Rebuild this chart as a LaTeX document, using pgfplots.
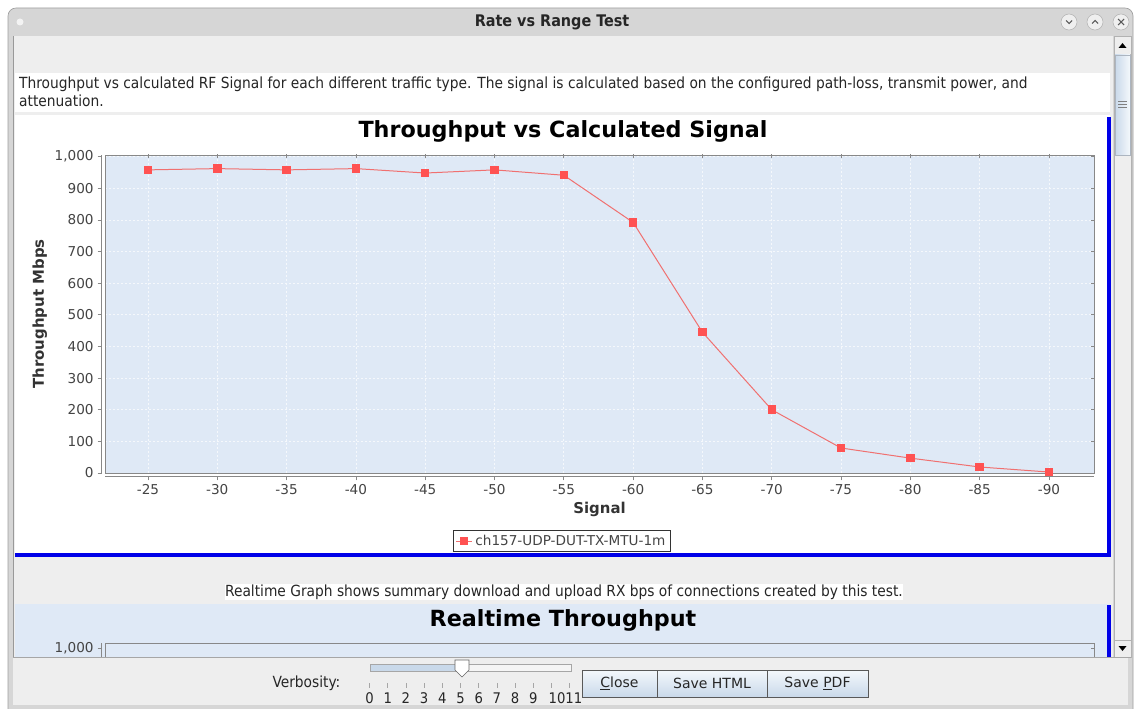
\documentclass[border=0pt]{standalone}
\usepackage{pgfplots}
\pgfplotsset{compat=1.18}
\usepackage{fontspec}
\setmainfont{DejaVu Sans}
\newfontfamily\cond{DejaVu Sans Condensed}
\definecolor{plotbg}{HTML}{DFE9F6}
\definecolor{serie}{HTML}{FF5252}
\definecolor{serieline}{HTML}{F07070}
\definecolor{winbg}{HTML}{EEEEEE}
\definecolor{frame}{HTML}{D6D6D6}
\definecolor{jblue}{HTML}{0000E8}
\definecolor{ticktxt}{HTML}{444444}
\definecolor{axgray}{HTML}{888888}
\definecolor{btnA}{HTML}{F4F8FC}
\definecolor{btnB}{HTML}{C9D9EA}
\begin{document}
\begin{tikzpicture}
% ---------------- window background ----------------
\begin{scope}[x=0.75pt,y=-0.75pt]
\path[use as bounding box, fill=white] (0,0) rectangle (1135,709);
\fill[frame] (8,709) [rounded corners=6pt]-- (8,8) -- (1133,8) [sharp corners]-- (1133,709) -- cycle;
\draw[gray!75, line width=0.5pt] (8,709) [rounded corners=6pt]-- (8,8) -- (1133,8) [sharp corners]-- (1133,709);
\fill[white!70!frame] (20,22) circle (3.5);
\node[font=\cond\bfseries\fontsize{12}{14}\selectfont, text=black!85] at (552,22) {Rate vs Range Test};
\foreach \cx in {1069,1095,1121}{
  \fill[white!60!frame] (\cx,22) circle (8);
  \draw[gray!60, line width=0.4pt] (\cx,22) circle (8);
}
\draw[gray!70!black, line width=0.8pt] (1066,20.5) -- (1069,23.5) -- (1072,20.5);
\draw[gray!70!black, line width=0.8pt] (1092,23.5) -- (1095,20.5) -- (1098,23.5);
\draw[gray!70!black, line width=0.8pt] (1118,19) -- (1124,25) (1118,25) -- (1124,19);
% content area
\fill[winbg] (13,36) rectangle (1113,657);
\draw[gray!80, line width=0.5pt] (13,36) -- (13,657);
% description box
\fill[white] (15,73) rectangle (1110,112);
\node[anchor=west, font=\cond\fontsize{11.5}{13}\selectfont, text=black!85] at (14.5,84.5) {Throughput vs calculated RF Signal for each different traffic type. The signal is calculated based on the configured path-loss, transmit power, and};
\node[anchor=west, font=\cond\fontsize{11.5}{13}\selectfont, text=black!85] at (14.5,100.5) {attenuation.};
% chart panel
\fill[white] (15,115) rectangle (1110,557);
\fill[jblue] (1107,117) rectangle (1111,557);
\fill[jblue] (15,553) rectangle (1111,557);
% realtime text
\fill[white] (225,584) rectangle (903,600);
\node[font=\cond\fontsize{11.5}{13}\selectfont, text=black!85] at (564,592) {Realtime Graph shows summary download and upload RX bps of connections created by this test.};
% realtime panel
\fill[plotbg] (15,604) rectangle (1110,657);
\fill[jblue] (1107,605) rectangle (1111,657);
\node[font=\bfseries\fontsize{16.7}{19}\selectfont] at (563,620) {Realtime Throughput};
% scrollbar
\fill[winbg] (1114,36) rectangle (1131,657);
\draw[gray!60, line width=0.5pt] (1114,36) rectangle (1131,657);
\draw[gray!60, line width=0.5pt] (1114,54) -- (1131,54) (1114,640) -- (1131,640);
\fill[black] (1118.5,48) -- (1126.5,48) -- (1122.5,43) -- cycle;
\fill[black] (1118.5,646) -- (1126.5,646) -- (1122.5,651) -- cycle;
\shade[left color=btnB, right color=btnA, middle color=btnB!60!white] (1115,55) rectangle (1130,155);
\draw[btnB!60!gray, line width=0.5pt] (1115,55) rectangle (1130,155);
\draw[gray, line width=0.4pt] (1118,101) -- (1127,101) (1118,104) -- (1127,104) (1118,107) -- (1127,107);
\end{scope}

% ---------------- main chart ----------------
\begin{axis}[
  at={(78.75pt,-354.75pt)}, anchor=south west,
  scale only axis, width=741.75pt, height=238.5pt,
  xmin=-0.62, xmax=13.65, ymin=0, ymax=1005,
  xtick={0,...,13},
  xticklabels={-25,-30,-35,-40,-45,-50,-55,-60,-65,-70,-75,-80,-85,-90},
  ytick={0,100,...,1000},
  yticklabel style={/pgf/number format/.cd, 1000 sep={,}, assume math mode=true},
  axis background/.style={fill=plotbg},
  axis line style={draw=axgray, line width=0.6pt},
  tick align=outside, major tick length=3pt,
  every tick/.style={axgray, line width=0.5pt},
  major x tick style={yshift=-2.5pt},
  major y tick style={xshift=-2.5pt},
  xticklabel shift=2pt, yticklabel shift=2pt,
  grid=major,
  major grid style={white!70!plotbg, line width=0.5pt, dash pattern=on 1.5pt off 1.5pt},
  tick label style={font=\fontsize{10.2}{12}\selectfont, text=ticktxt},
  xlabel={Signal}, ylabel={Throughput Mbps},
  every axis x label/.style={at={(rel axis cs:0.5,-0.113)}, anchor=center,
    font=\bfseries\fontsize{11.2}{13}\selectfont, text=black!80},
  every axis y label/.style={at={(rel axis cs:-0.066,0.5)}, anchor=center, rotate=90,
    font=\bfseries\fontsize{11.2}{13}\selectfont, text=black!80},
  legend style={at={(rel axis cs:0.462,-0.214)}, anchor=center, draw=black!80, line width=0.6pt,
    font=\fontsize{10.2}{12}\selectfont, text=ticktxt, inner sep=1.5pt},
  legend image code/.code={
    \draw[serieline, line width=0.75pt] (0pt,0pt) -- (12pt,0pt);
    \fill[serie] (3.5pt,-2.6pt) rectangle (8.5pt,2.6pt);
  },
  clip=false,
]
\draw[axgray, line width=0.6pt] ([yshift=-2.5pt]rel axis cs:0,0) -- ([yshift=-2.5pt]rel axis cs:1,0);
\draw[axgray, line width=0.6pt] ([xshift=-2.5pt]rel axis cs:0,0) -- ([xshift=-2.5pt]rel axis cs:0,1);
\addplot[serieline, line width=0.75pt, mark=square*, mark size=2.8pt,
  mark options={fill=serie, draw=serie}] coordinates {
  (0,958) (1,962) (2,958) (3,962) (4,948) (5,958) (6,941)
  (7,792) (8,445) (9,200) (10,79) (11,47) (12,19) (13,3)
};
\addlegendentry{ch157-UDP-DUT-TX-MTU-1m}
\end{axis}

% ---------------- realtime chart (top sliver) ----------------
\begin{axis}[
  at={(78.75pt,-495.75pt)}, anchor=south west,
  scale only axis, width=741.75pt, height=13.5pt,
  xmin=0, xmax=1, ymin=987, ymax=1005,
  xtick=\empty, ytick={1000},
  yticklabel style={/pgf/number format/.cd, 1000 sep={,}, assume math mode=true},
  axis background/.style={fill=plotbg},
  axis line style={draw=axgray, line width=0.6pt},
  tick align=outside, major tick length=3pt,
  every tick/.style={axgray, line width=0.5pt},
  major y tick style={xshift=-2.5pt},
  yticklabel shift=2pt,
  tick label style={font=\fontsize{10.2}{12}\selectfont, text=ticktxt},
  clip=false,
]
\draw[axgray, line width=0.6pt] ([xshift=-2.5pt]rel axis cs:0,0) -- ([xshift=-2.5pt]rel axis cs:0,1);
\end{axis}

% ---------------- overlays ----------------
\begin{scope}[x=0.75pt,y=-0.75pt]
\node[font=\bfseries\fontsize{16.7}{19}\selectfont] at (563,131.5) {Throughput vs Calculated Signal};
% bottom control bar
\fill[winbg] (13,657) rectangle (1128,705);
\draw[gray!70, line width=0.5pt] (13,657) -- (1131,657);
\node[anchor=east, font=\cond\fontsize{11.5}{13}\selectfont, text=black!85] at (345,683) {Verbosity:};
\fill[white!92!gray] (370,664) rectangle (571,671);
\fill[btnB] (370,664) rectangle (462,671);
\draw[gray!70, line width=0.5pt] (370,664) rectangle (571,671);
\foreach \i in {0,...,11}{
  \draw[gray!70, line width=0.5pt] ({369.5+\i*18.2},683) -- ({369.5+\i*18.2},688);
}
\foreach \i/\t in {0/0,1/1,2/2,3/3,4/4,5/5,6/6,7/7,8/8,9/9}{
  \node[font=\cond\fontsize{11}{13}\selectfont, text=black!85] at ({369.5+\i*18.2},698) {\t};
}
\node[font=\cond\fontsize{11}{13}\selectfont, text=black!85, inner sep=0pt] at (565.5,698) {1011};
\draw[fill=white, draw=gray!80!black, line width=0.5pt] (455,660) -- (469,660) -- (469,670) -- (462,677) -- (455,670) -- cycle;
% buttons
\foreach \xa/\xb in {582/657,657/767,767/868}{
  \shade[top color=btnA, bottom color=btnB] (\xa,670) rectangle (\xb,697);
  \draw[gray!70!black, line width=0.5pt] (\xa,670) rectangle (\xb,697);
}
\node[font=\fontsize{10.5}{12}\selectfont, text=black!85] at (619.5,683.5) {\underline{C}lose};
\node[font=\fontsize{10.5}{12}\selectfont, text=black!85] at (712,683.5) {Save HTML};
\node[font=\fontsize{10.5}{12}\selectfont, text=black!85] at (817.5,683.5) {Save \underline{P}DF};
\end{scope}
\end{tikzpicture}
\end{document}
